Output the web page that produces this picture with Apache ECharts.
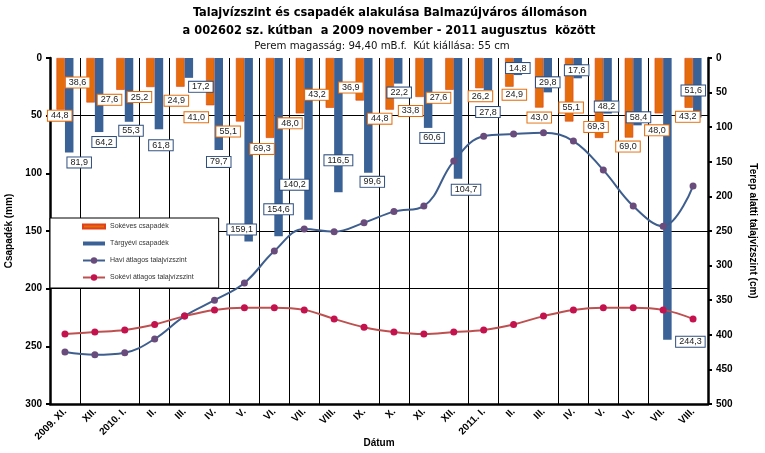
<!DOCTYPE html>
<html>
<head>
<meta charset="utf-8">
<script src="https://cdn.jsdelivr.net/npm/echarts@6/dist/echarts.min.js"></script>
<style>
html,body{margin:0;padding:0;background:#fff;}
#chart{width:765px;height:453px;}
</style>
</head>
<body>
<div id="chart"></div>
<script>
// ---- data ----
const categories = ['2009-11','2009-12','2010-01','2010-02','2010-03','2010-04','2010-05','2010-06','2010-07','2010-08','2010-09','2010-10','2010-11','2010-12','2011-01','2011-02','2011-03','2011-04','2011-05','2011-06','2011-07','2011-08'];
const tickLabels = ['2009. XI.','XII.','2010. I.','II.','III.','IV.','V.','VI.','VII.','VIII.','IX.','X.','XI.','XII.','2011. I.','II.','III.','IV.','V.','VI.','VII.','VIII.'];
const longTermPrecip = [44.8, 38.6, 27.6, 25.2, 24.9, 41.0, 55.1, 69.3, 48.0, 43.2, 36.9, 44.8, 33.8, 27.6, 26.2, 24.9, 43.0, 55.1, 69.3, 69.0, 48.0, 43.2];
const currentPrecip = [81.9, 64.2, 55.3, 61.8, 17.2, 79.7, 159.1, 154.6, 140.2, 116.5, 99.6, 22.2, 60.6, 104.7, 27.8, 14.8, 29.8, 17.6, 48.2, 58.4, 244.3, 51.6];
const monthlyLevel = [425, 429, 426, 406, 373, 350, 325, 279, 247, 251, 238, 222, 214, 149, 113, 110, 108, 120, 162, 214, 243, 185];
const longTermLevel = [399, 396, 393, 385, 373, 364, 361, 361, 364, 377, 389, 396, 399, 396, 393, 385, 373, 364, 361, 361, 364, 377];
const leftTicks = ['0','50','100','150','200','250','300'];

// ---- label placement (manual, as in the original) ----
const longTermLabelOffset = [[-1,6],[-13,-20],[-11,10],[-11,10],[-4,14],[-14,12],[-12,10],[-8,11],[-10,10],[-13,-13],[-9,-13],[-10,9],[-9,14],[-11,8],[1,8],[5,8],[0,10],[2,-14],[-3,-11],[-1,9],[-2,17],[-1,9]];
const currentLabelOffset = [[10,10],[5,10],[2,9],[2,16],[12,9],[0,12],[-7,-12],[0,-27],[-14,-35],[0,-32],[4,9],[1,9],[4,10],[8,11],[0,22],[0,-7],[0,-10],[-1,-8],[-1,-7],[1,-8],[23,2],[-4,-27]];

const names = ['Sokéves csapadék','Tárgyévi csapadék','Havi átlagos talajvízszint','Sokévi átlagos talajvízszint'];
const titleLine1 = 'Talajvízszint és csapadék alakulása Balmazújváros állomáson';
const titleLine2 = 'a 002602 sz. kútban  a 2009 november - 2011 augusztus  között';
const subTitle = 'Perem magasság: 94,40 mB.f.  Kút kiállása: 55 cm';

const fmt = v => Number(v).toFixed(1).replace('.', ',');
const vLines = [1,3,4,6,7,8,9,11,12,14,15,17,18,19,20];
const hLines = [1,3,4];

const ORANGE = '#E46C0A', BLUE = '#3B6296';
function barLabel(border){
  return {show:true, position:'bottom', distance:0, align:'center', verticalAlign:'middle',
    formatter: p => fmt(p.value), backgroundColor:'#fff', borderColor:border, borderWidth:1,
    padding:[1,3,0,3], fontSize:9, fontFamily:'Arial, "Liberation Sans", sans-serif', color:'#222'};
}

const chart = echarts.init(document.getElementById('chart'), null, {renderer:'canvas'});
const axisFont = {fontFamily:'Arial, "Liberation Sans", sans-serif', fontWeight:'bold', color:'#000'};
chart.setOption({
  animation:false,
  backgroundColor:'#fff',
  graphic:[
    {type:'text', x:390, y:13, style:{text:titleLine1, align:'center', verticalAlign:'middle', textAlign:'center', textVerticalAlign:'middle', font:'bold 12.7px "DejaVu Sans Condensed", sans-serif', fill:'#000'}},
    {type:'text', x:389, y:31, style:{text:titleLine2, align:'center', verticalAlign:'middle', textAlign:'center', textVerticalAlign:'middle', font:'bold 12.7px "DejaVu Sans Condensed", sans-serif', fill:'#000'}},
    {type:'text', x:382, y:46, style:{text:subTitle, align:'center', verticalAlign:'middle', textAlign:'center', textVerticalAlign:'middle', font:'11.3px "DejaVu Sans Condensed", sans-serif', fill:'#111'}}
  ],
  legend:{
    left:50, top:218, orient:'vertical', align:'left',
    backgroundColor:'#fff', borderColor:'#000', borderWidth:1,
    padding:[5,25,7,32], itemGap:10, itemWidth:22, itemHeight:8,
    textStyle:{fontSize:7, color:'#333', fontFamily:'Arial, "Liberation Sans", sans-serif'},
    data:[
      {name:names[0], icon:'path://M0,0h22v4h-22z'},
      {name:names[1], icon:'path://M0,0h22v4h-22z'},
      {name:names[2]},
      {name:names[3]}
    ]
  },
  grid:{left:50, right:57, top:58, bottom:49, containLabel:false, outerBoundsMode:'none'},
  xAxis:{
    type:'category', data:categories, boundaryGap:true,
    name:'Dátum', nameLocation:'middle', nameGap:34, nameMoveOverlap:false,
    nameTextStyle:Object.assign({fontSize:10}, axisFont),
    axisLine:{onZero:false, lineStyle:{color:'#000', width:2.5}},
    axisTick:{interval:0, length:4, lineStyle:{color:'#000', width:2}},
    axisLabel:Object.assign({interval:0, rotate:45, fontSize:10, margin:6, formatter:(v,i)=>tickLabels[i]}, axisFont),
    splitLine:{show:true, interval:(i)=>vLines.indexOf(i)>=0, lineStyle:{color:'#000', width:1}}
  },
  yAxis:[
    {type:'value', min:0, max:300, interval:50, inverse:true, position:'left',
     name:'Csapadék (mm)', nameLocation:'middle', nameGap:36, nameRotate:90, nameMoveOverlap:false,
     nameTextStyle:Object.assign({fontSize:10}, axisFont),
     axisLine:{show:true, onZero:false, lineStyle:{color:'#000', width:2.5}},
     axisTick:{show:true, length:4, lineStyle:{color:'#000', width:2}},
     axisLabel:Object.assign({fontSize:10, margin:8}, axisFont),
     splitLine:{show:false}},
    {type:'value', min:0, max:500, interval:50, inverse:true, position:'right',
     name:'Terep alatti talajvízszint (cm)', nameLocation:'middle', nameGap:40, nameRotate:-90, nameMoveOverlap:false,
     nameTextStyle:Object.assign({fontSize:10}, axisFont),
     axisLine:{show:true, onZero:false, lineStyle:{color:'#000', width:2.5}},
     axisTick:{show:true, length:4, lineStyle:{color:'#000', width:2}},
     axisLabel:Object.assign({fontSize:10, margin:8}, axisFont),
     splitLine:{show:false}},
    {type:'category', data:leftTicks, boundaryGap:false, inverse:true, position:'left',
     axisLine:{show:false, onZero:false}, axisTick:{show:false}, axisLabel:{show:false},
     splitLine:{show:true, interval:(i)=>hLines.indexOf(i)>=0, lineStyle:{color:'#000', width:1}}}
  ],
  series:[
    {name:names[0], type:'bar', yAxisIndex:0, barWidth:8.5, barGap:'0%',
     itemStyle:{color:ORANGE, borderColor:'#E0401A', borderWidth:0.6},
     label:barLabel(ORANGE),
     data:longTermPrecip.map((v,i)=>({value:v, label:{offset:longTermLabelOffset[i]}}))},
    {name:names[1], type:'bar', yAxisIndex:0, barWidth:8.5, barGap:'0%',
     itemStyle:{color:BLUE},
     label:barLabel('#2F4F7F'),
     data:currentPrecip.map((v,i)=>({value:v, label:{offset:currentLabelOffset[i]}}))},
    {name:names[2], type:'line', yAxisIndex:1, smooth:0.4, symbol:'circle', symbolSize:7,
     lineStyle:{color:'#3E5E8E', width:2}, itemStyle:{color:'#6A4C7C'},
     data:monthlyLevel, z:5},
    {name:names[3], type:'line', yAxisIndex:1, smooth:0.4, symbol:'circle', symbolSize:7,
     lineStyle:{color:'#BE5050', width:2}, itemStyle:{color:'#C4124E'},
     data:longTermLevel, z:5}
  ]
});
</script>
</body>
</html>
